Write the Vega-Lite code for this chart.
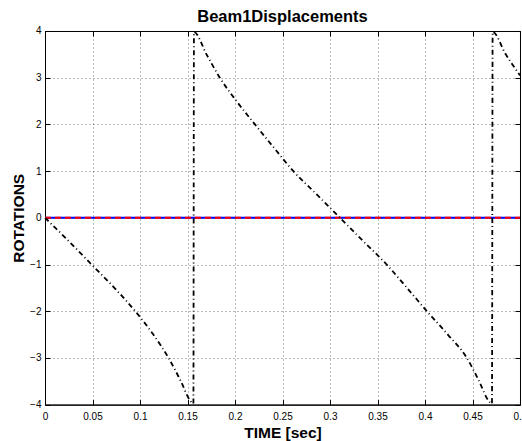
{
  "$schema": "https://vega.github.io/schema/vega-lite/v6.json",
  "width": 475,
  "height": 373.6,
  "autosize": {"type": "none"},
  "padding": {"left": 45, "top": 31, "right": 2, "bottom": 36},
  "background": "white",
  "title": {"text": "Beam1Displacements", "font": "Liberation Sans", "fontSize": 16.5, "fontWeight": "bold", "color": "black", "offset": 0, "anchor": "middle"},
  "config": {
    "view": {"stroke": "black", "strokeWidth": 1},
    "axis": {
      "labelFont": "Liberation Sans", "labelFontSize": 10, "labelColor": "black",
      "titleFont": "Liberation Sans", "titleFontSize": 15.5, "titleFontWeight": "bold", "titleColor": "black",
      "domainColor": "black", "tickColor": "black", "tickSize": -5, "labelPadding": 9,
      "gridColor": "#000", "gridOpacity": 0.55, "gridDash": [1, 3], "gridWidth": 1
    }
  },
  "datasets": {
    "zero": [{"t": 0, "v": 0}, {"t": 0.5, "v": 0}],
    "disp": [
      {"t": 0.0, "v": 0.0},
      {"t": 0.025, "v": -0.5},
      {"t": 0.049, "v": -1.0},
      {"t": 0.073, "v": -1.5},
      {"t": 0.095, "v": -2.0},
      {"t": 0.114, "v": -2.5},
      {"t": 0.130, "v": -3.0},
      {"t": 0.143, "v": -3.5},
      {"t": 0.153, "v": -3.92},
      {"t": 0.1562, "v": -3.98},
      {"t": 0.1568, "v": 3.98},
      {"t": 0.170, "v": 3.5},
      {"t": 0.184, "v": 3.0},
      {"t": 0.2015, "v": 2.5},
      {"t": 0.221, "v": 2.0},
      {"t": 0.241, "v": 1.5},
      {"t": 0.2614, "v": 1.0},
      {"t": 0.286, "v": 0.5},
      {"t": 0.3105, "v": 0.0},
      {"t": 0.335, "v": -0.5},
      {"t": 0.3596, "v": -1.0},
      {"t": 0.381, "v": -1.5},
      {"t": 0.402, "v": -2.0},
      {"t": 0.424, "v": -2.5},
      {"t": 0.444, "v": -3.0},
      {"t": 0.457, "v": -3.5},
      {"t": 0.467, "v": -3.92},
      {"t": 0.4705, "v": -3.98},
      {"t": 0.4712, "v": 3.98},
      {"t": 0.485, "v": 3.5},
      {"t": 0.5, "v": 3.05}
    ]
  },
  "layer": [
    {
      "data": {"name": "zero"},
      "mark": {"type": "line", "color": "blue", "strokeWidth": 2},
      "encoding": {
        "x": {"field": "t", "type": "quantitative", "scale": {"domain": [0, 0.5], "nice": false, "zero": false},
              "axis": {"title": "TIME [sec]", "values": [0, 0.05, 0.1, 0.15, 0.2, 0.25, 0.3, 0.35, 0.4, 0.45, 0.5], "format": "~g", "grid": true, "labelPadding": 12, "titlePadding": 4, "labelFlush": false}},
        "y": {"field": "v", "type": "quantitative", "scale": {"domain": [-4, 4], "nice": false},
              "axis": {"title": "ROTATIONS", "values": [-4, -3, -2, -1, 0, 1, 2, 3, 4], "grid": true, "titlePadding": 3, "labelFlush": false}}
      }
    },
    {
      "data": {"name": "zero"},
      "mark": {"type": "line", "color": "red", "strokeWidth": 2, "strokeDash": [6, 4]},
      "encoding": {
        "x": {"field": "t", "type": "quantitative",
              "axis": {"orient": "top", "title": null, "labels": false, "grid": false, "domain": false, "values": [0, 0.05, 0.1, 0.15, 0.2, 0.25, 0.3, 0.35, 0.4, 0.45, 0.5]}},
        "y": {"field": "v", "type": "quantitative",
              "axis": {"orient": "right", "title": null, "labels": false, "grid": false, "domain": false, "values": [-4, -3, -2, -1, 0, 1, 2, 3, 4]}}
      }
    },
    {
      "data": {"name": "disp"},
      "mark": {"type": "line", "color": "black", "strokeWidth": 1.8, "strokeDash": [5, 3, 1, 3], "interpolate": "monotone"},
      "encoding": {
        "x": {"field": "t", "type": "quantitative", "axis": null},
        "y": {"field": "v", "type": "quantitative", "axis": null}
      }
    }
  ],
  "resolve": {"axis": {"x": "independent", "y": "independent"}}
}
